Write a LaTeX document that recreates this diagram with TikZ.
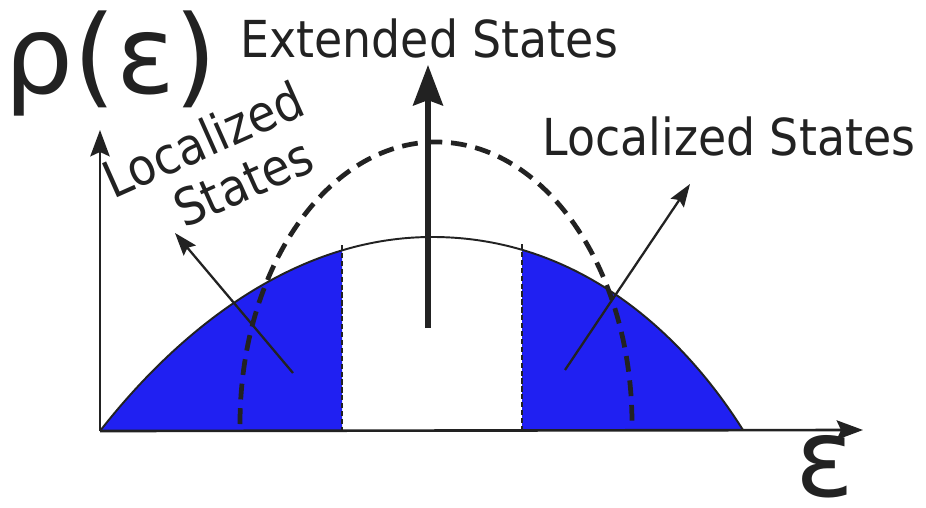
\documentclass[tikz,border=0pt]{standalone}
\usepackage{fontspec}
\setmainfont{DejaVu Sans}
\newfontfamily\condfont[FakeStretch=0.9]{DejaVu Sans}
\usetikzlibrary{arrows.meta}
\definecolor{ink}{HTML}{222222}
\definecolor{bandblue}{HTML}{2020F2}
\tikzset{
  axisarr/.style={-{Stealth[length=15pt,width=11pt,inset=2.5pt]},line width=1.5pt,
                  draw=ink},
  extarr/.style={-{Stealth[length=23pt,width=17pt,inset=3pt]},line width=3pt,
                 draw=ink},
  locarr/.style={-{Stealth[length=13pt,width=9pt,inset=2pt]},line width=1.3pt,
                 draw=ink},
  dome/.style={draw=ink,line width=1.1pt},
  dashdome/.style={draw=ink,line width=2.7pt,dash pattern=on 9pt off 5pt},
  sepline/.style={draw=ink,line width=1.6pt,dash pattern=on 3pt off 1.5pt},
  bandfill/.style={fill=bandblue},
  lbl/.style={inner sep=0pt,anchor=base west,text=ink,
              font=\condfont\fontsize{29}{35}\selectfont},
  biglbl/.style={inner sep=0pt,anchor=base west,text=ink,
                 font=\fontsize{62}{70}\selectfont}
}

\begin{document}
\begin{tikzpicture}[x=0.02cm,y=-0.02cm]
    \path[use as bounding box] (0,0) rectangle (926,507);

    % localized bands under the density of states
    \foreach \xa/\xb in {100/342,522/743}{
      \begin{scope}
        \clip (\xa,0) rectangle (\xb,440);
        \fill[bandfill] (100,431) .. controls (175,335) and (290,238) .. (430,237)
          .. controls (575,236) and (680,330) .. (743,430) -- cycle;
      \end{scope}
    }
    \draw[sepline] (342,245) -- (342,431);
    \draw[sepline] (522,244) -- (522,431);

    \draw[dome] (100,431) .. controls (175,335) and (290,238) .. (430,237)
      .. controls (575,236) and (680,330) .. (743,430);
    \draw[dashdome] (240,424) arc[start angle=180,end angle=360,
      x radius=196,y radius=282];

    \coordinate (O) at (100,431);
    \coordinate (ytip) at (100,130);
    \coordinate (xtip) at (863,430);
    \draw[axisarr] (O) -- (ytip);
    \draw[axisarr] (O) -- (xtip);

    \coordinate (ext0) at (428,328);
    \coordinate (ext1) at (428,65);
    \coordinate (locl0) at (293,373);
    \coordinate (locl1) at (175,233);
    \coordinate (locr0) at (565,370);
    \coordinate (locr1) at (690,184);
    \draw[extarr] (ext0) -- (ext1);
    \draw[locarr] (locl0) -- (locl1);
    \draw[locarr] (locr0) -- (locr1);

    \node[biglbl] (rho) at (4,93) {ρ(ε)};
    \node[biglbl] (eps) at (795,496) {ε};
    \node[lbl] (ext) at (240,57) {Extended States};
    \node[lbl] (locr) at (542,155) {Localized States};
    \node[lbl,rotate=24] (locla) at (113,200) {Localized};
    \node[lbl,rotate=24] (loclb) at (184,229) {States};
  \end{tikzpicture}
\end{document}
